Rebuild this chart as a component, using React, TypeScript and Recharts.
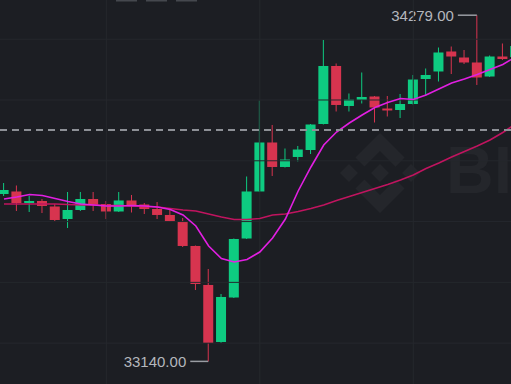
import React from 'react';
import { ComposedChart, Bar, Line, XAxis, YAxis, ReferenceLine } from 'recharts';

const candleIndex = [0,1,2,3,4,5,6,7,8,9,10,11,12,13,14,15,16,17,18,19,20,21,22,23,24,25,26,27,28,29,30,31,32,33,34,35,36,37,38,39,40];
const opens = [33690.7,33699.0,33661.1,33667.7,33649.6,33608.5,33638.1,33674.3,33657.8,33633.2,33669.4,33656.2,33641.4,33621.7,33598.6,33519.7,33391.4,33203.8,33350.2,33544.3,33699.0,33860.2,33779.6,33812.5,33835.5,33921.0,34111.9,33980.3,34000.0,34011.5,33972.0,33967.1,33986.8,34069.1,34093.8,34159.6,34139.8,34123.4,34077.3,34143.1,34141.5];
const highs = [33726.9,33718.7,33684.2,33674.3,33657.8,33697.3,33697.3,33697.3,33667.7,33697.3,33687.5,33661.1,33664.4,33638.1,33611.8,33521.3,33444.0,33361.7,33544.3,33748.3,33998.4,33917.8,33840.4,33848.7,33921.0,34197.4,34120.1,34021.4,34090.5,34013.2,34013.2,34019.7,34082.3,34103.6,34172.7,34176.0,34164.5,34279.0,34146.4,34185.9,34184.2];
const lows = [33684.2,33634.8,33631.5,33628.2,33601.9,33578.9,33634.8,33634.8,33608.5,33631.5,33629.9,33624.9,33608.5,33598.6,33516.4,33374.9,33140.0,33200.5,33348.6,33542.7,33697.3,33750.0,33777.9,33797.7,33822.3,33919.4,33962.2,33962.2,33988.5,33926.0,33945.7,33940.8,33985.2,34016.5,34060.9,34085.5,34118.4,34049.4,34075.7,34131.6,34138.2];
const closes = [33703.9,33661.1,33667.7,33651.3,33605.2,33638.1,33674.3,33654.6,33633.2,33669.4,33652.9,33641.4,33621.7,33600.3,33519.7,33394.6,33200.5,33351.9,33542.7,33699.0,33860.2,33779.6,33804.2,33837.1,33919.4,34111.9,33983.6,34001.6,34009.9,33975.3,33965.5,33986.8,34067.4,34082.3,34156.3,34143.1,34123.4,34074.0,34143.1,34134.9,34177.7];
const maFast = [33674.3,33680.9,33689.1,33685.8,33675.9,33666.1,33657.8,33654.6,33651.3,33651.3,33652.9,33651.3,33648.0,33639.7,33621.7,33585.5,33519.7,33478.5,33467.0,33475.2,33499.9,33546.0,33608.5,33700.6,33779.6,33852.0,33894.7,33924.3,33950.7,33975.3,33991.8,34004.9,34001.6,34016.5,34036.2,34055.9,34069.1,34083.9,34100.3,34116.8,34141.5];
const maSlow = [33657.8,33657.8,33657.8,33657.8,33657.8,33656.2,33654.6,33654.6,33652.9,33652.9,33651.3,33649.6,33648.0,33643.0,33638.1,33634.8,33624.9,33615.1,33606.8,33606.8,33610.1,33621.7,33624.9,33633.2,33643.0,33654.6,33669.4,33682.5,33695.7,33708.8,33722.0,33736.8,33753.3,33774.6,33792.7,33812.5,33830.6,33848.7,33868.4,33893.1,33921.0];
const gridPrices = [34200, 34000, 33800, 33600, 33400, 33200];
const gridIndexes = [8, 20, 32];
const lastPrice = 33901.3;

const UP = '#0ecb81';
const DOWN = '#d7344f';
const BG = '#1c1e23';
const GRID = '#25282d';

const data = candleIndex.map((i) => ({
  i,
  open: opens[i],
  high: highs[i],
  low: lows[i],
  close: closes[i],
  range: [lows[i], highs[i]],
  maFast: maFast[i],
  maSlow: maSlow[i],
}));

const maxHigh = Math.max(...highs);
const minLow = Math.min(...lows);

const Candle = (props: any) => {
  const { x, y, width, height, payload } = props;
  if (x == null || y == null || !payload) return null;
  const { open, close, high, low } = payload;
  const top = Math.min(y, y + height);
  const h = Math.abs(height);
  const k = h / (high - low);
  const py = (v: number) => top + (high - v) * k;
  const cx = x + width / 2;
  const color = close >= open ? UP : DOWN;
  const bTop = py(Math.max(open, close));
  const bBot = py(Math.min(open, close));
  const bh = Math.max(1, bBot - bTop);
  const els: any[] = [];
  els.push(<line key="w" x1={cx} x2={cx} y1={py(high)} y2={py(low)} stroke={color} strokeWidth={1} />);
  els.push(<rect key="b" x={cx - 5} y={bTop} width={10} height={bh} fill={color} />);
  if (high === maxHigh) {
    const yy = py(high);
    els.push(<line key="hl" x1={cx - 19} x2={cx} y1={yy} y2={yy} stroke="#9a9da3" strokeWidth={1.5} />);
    els.push(
      <text key="ht" x={cx - 23} y={yy} textAnchor="end" dominantBaseline="central" fill="#b4b7bd" fontSize={15} fontFamily="'Liberation Sans', Arial, sans-serif">
        {high.toFixed(2)}
      </text>
    );
  }
  if (low === minLow) {
    const yy = py(low);
    els.push(<line key="ll" x1={cx - 18} x2={cx} y1={yy} y2={yy} stroke="#9a9da3" strokeWidth={1.5} />);
    els.push(
      <text key="lt" x={cx - 22} y={yy} textAnchor="end" dominantBaseline="central" fill="#b4b7bd" fontSize={15} fontFamily="'Liberation Sans', Arial, sans-serif">
        {low.toFixed(2)}
      </text>
    );
  }
  return <g>{els}</g>;
};

const Watermark = () => (
  <svg width={511} height={384} style={{ position: 'absolute', left: 0, top: 0 }}>
    <g transform="translate(340,133) scale(0.632)" fill="#24262b">
      <polygon points="38.73,53.2 63.3,28.63 87.89,53.22 102.19,38.92 63.3,0.03 24.42,38.91" />
      <polygon points="0,63.31 14.3,49.01 28.6,63.31 14.3,77.61" />
      <polygon points="48.98,63.31 63.31,48.98 77.64,63.31 63.31,77.64" />
      <polygon points="98.01,63.31 112.31,49.01 126.61,63.31 112.31,77.61" />
      <polygon points="87.89,73.39 63.3,97.98 38.72,73.4 24.4,87.69 63.3,126.59 102.19,87.69" />
    </g>
    <text x={446} y={193} fontSize={66} fontWeight="bold" fill="#24262b" fontFamily="'Liberation Sans', Arial, sans-serif">BINANCE</text>
    <rect x={116} y={0} width={21} height={1.5} fill="#45484e" />
    <rect x={146} y={0} width={21} height={1.5} fill="#45484e" />
    <rect x={176} y={0} width={21} height={1.5} fill="#45484e" />
  </svg>
);

export default function App() {
  return (
    <div style={{ position: 'fixed', left: 0, top: 0, width: 511, height: 384, background: BG, overflow: 'hidden' }}>
      <Watermark />
      <div style={{ position: 'absolute', left: 0, top: 0 }}>
        <ComposedChart width={511} height={384} data={data} margin={{ top: 0, right: 0, bottom: 0, left: 0 }}>
          <XAxis dataKey="i" type="number" domain={[-0.3127, 39.6407]} allowDataOverflow hide />
          <YAxis type="number" domain={[33065.6, 34329]} allowDataOverflow hide />
          {gridPrices.map((p) => (
            <ReferenceLine key={'gy' + p} y={p} stroke={GRID} strokeWidth={1} />
          ))}
          {gridIndexes.map((g) => (
            <ReferenceLine key={'gx' + g} x={g} stroke={GRID} strokeWidth={1} />
          ))}
          <Bar dataKey="range" barSize={10} shape={<Candle />} isAnimationActive={false} />
          <Line dataKey="maSlow" type="linear" stroke="#c0145f" strokeWidth={1.6} dot={false} activeDot={false} isAnimationActive={false} />
          <Line dataKey="maFast" type="linear" stroke="#e21fe2" strokeWidth={1.6} dot={false} activeDot={false} isAnimationActive={false} />
          <ReferenceLine y={lastPrice} stroke="#8d9096" strokeWidth={2} strokeDasharray="7 5" />
        </ComposedChart>
      </div>
    </div>
  );
}
